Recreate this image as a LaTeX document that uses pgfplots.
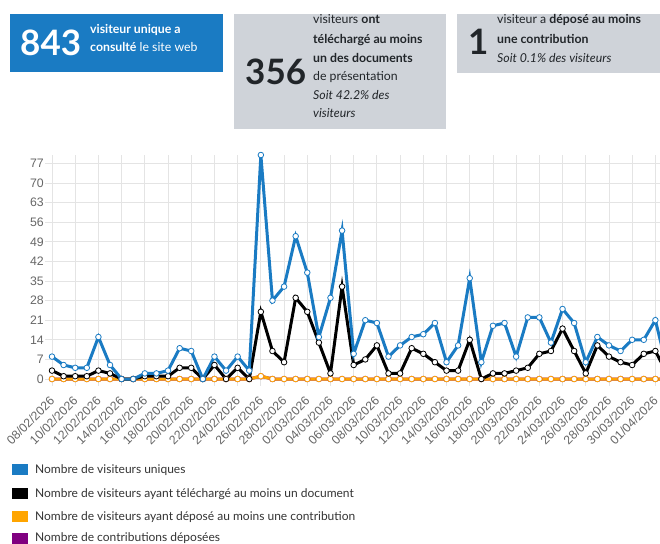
\documentclass[border=0pt]{standalone}
\usepackage{pgfplots}
\usepackage{pgfplotstable}
\pgfplotsset{compat=1.18}
\usepackage{fontspec}
\setmainfont{Lato}
\newfontfamily\tickfont{Liberation Sans}
\definecolor{cblue}{HTML}{1A7BC3}
\definecolor{kgray}{HTML}{CFD3D9}
\definecolor{ktext}{HTML}{212529}
\definecolor{corange}{HTML}{FFA500}
\definecolor{cpurple}{HTML}{800080}
\definecolor{gridc}{HTML}{E4E4E4}
\definecolor{tickc}{HTML}{666666}
\definecolor{legc}{HTML}{333333}

\pgfplotstableread{
i blue black orange purple
0 8 3 0 0
1 5 1 0 0
2 4 1 0 0
3 4 1 0 0
4 15 3 0 0
5 5 2 0 0
6 0 0 0 0
7 0 0 0 0
8 2 1 0 0
9 2 1 0 0
10 3 1 0 0
11 11 4 0 0
12 10 4 0 0
13 0 0 0 0
14 8 5 0 0
15 3 0 0 0
16 8 4 0 0
17 3 0 0 0
18 80 24 1 1
19 28 10 0 0
20 33 6 0 0
21 51 29 0 0
22 38 24 0 0
23 15 13 0 0
24 29 2 0 0
25 53 33 0 0
26 9 5 0 0
27 21 7 0 0
28 20 12 0 0
29 8 2 0 0
30 12 2 0 0
31 15 11 0 0
32 16 9 0 0
33 20 6 0 0
34 6 3 0 0
35 12 3 0 0
36 36 14 0 0
37 6 0 0 0
38 19 2 0 0
39 20 2 0 0
40 8 3 0 0
41 22 4 0 0
42 22 9 0 0
43 13 10 0 0
44 25 18 0 0
45 20 10 0 0
46 6 2 0 0
47 15 12 0 0
48 12 8 0 0
49 10 6 0 0
50 14 5 0 0
51 14 9 0 0
52 21 10 0 0
53 4 2 0 0
}\datatable

\newcommand{\kl}[3]{\node[anchor=base west, inner sep=0pt, text=ktext, font=\fontsize{12.3}{12.3}\selectfont] at (#1,#2) {#3};}

\begin{document}
\begin{tikzpicture}[x=1pt,y=1pt]
\useasboundingbox (0,0) rectangle (660,-543);
% KPI box 1
\fill[cblue] (10,-14) rectangle (223,-72);
\node[anchor=base west, inner sep=0pt, text=white, font=\fontsize{35}{35}\selectfont\bfseries] at (20,-56) {843};
\node[anchor=base west, inner sep=0pt, text=white, font=\fontsize{12.3}{12.3}\selectfont] at (90,-34) {\textbf{visiteur unique a}};
\node[anchor=base west, inner sep=0pt, text=white, font=\fontsize{12.3}{12.3}\selectfont] at (90,-52) {\textbf{consulté} le site web};
% KPI box 2
\fill[kgray] (234,-14) rectangle (446,-129);
\node[anchor=base west, inner sep=0pt, text=ktext, font=\fontsize{35}{35}\selectfont\bfseries] at (245,-84) {356};
\kl{313}{-24}{visiteurs \textbf{ont}}
\kl{313}{-44}{\textbf{téléchargé au moins}}
\kl{313}{-62}{\textbf{un des documents}}
\kl{313}{-80}{de présentation}
\kl{313}{-99}{\textit{Soit 42.2\% des}}
\kl{313}{-117}{\textit{visiteurs}}
% KPI box 3
\fill[kgray] (457,-14) rectangle (665,-73);
\node[anchor=base west, inner sep=0pt, text=ktext, font=\fontsize{35}{35}\selectfont\bfseries] at (468,-55) {1};
\kl{497}{-24}{visiteur a \textbf{déposé au moins}}
\kl{497}{-44}{\textbf{une contribution}}
\kl{497}{-62}{\textit{Soit 0.1\% des visiteurs}}

\begin{axis}[
  at={(52pt,-379pt)}, anchor=south west,
  scale only axis, width=608pt, height=224pt,
  xmin=0, xmax=52.4, ymin=0, ymax=80,
  clip=false,
  axis line style={draw=none},
  grid=major,
  major grid style={gridc, line width=0.8pt},
  xtick={0,2,...,52},
  xticklabels={08/02/2026,10/02/2026,12/02/2026,14/02/2026,16/02/2026,18/02/2026,20/02/2026,22/02/2026,24/02/2026,26/02/2026,28/02/2026,02/03/2026,04/03/2026,06/03/2026,08/03/2026,10/03/2026,12/03/2026,14/03/2026,16/03/2026,18/03/2026,20/03/2026,22/03/2026,24/03/2026,26/03/2026,28/03/2026,30/03/2026,01/04/2026},
  ytick={0,7,...,77},
  tick align=outside,
  major tick length=7pt,
  tick style={gridc, line width=0.8pt},
  xtick pos=left, ytick pos=left,
  tick label style={font=\tickfont\fontsize{12.3}{12.3}\selectfont, text=tickc},
  x tick label style={yshift=-8pt, xshift=-3pt, rotate=45, anchor=north east, inner sep=1pt},
  y tick label style={inner sep=1pt},
  /pgf/number format/assume math mode=true,
]
\addplot[cpurple, line width=3pt, mark=*, mark size=2.8pt, mark options={fill=white, draw=cpurple, line width=0.8pt}] table[x=i,y=purple] {\datatable};
\addplot[corange, line width=3pt, mark=*, mark size=2.8pt, mark options={fill=white, draw=corange, line width=0.8pt}] table[x=i,y=orange] {\datatable};
\addplot[black, line width=3pt, mark=*, mark size=2.8pt, mark options={fill=white, draw=black, line width=0.8pt}] table[x=i,y=black] {\datatable};
\addplot[cblue, line width=3pt, mark=*, mark size=2.8pt, mark options={fill=white, draw=cblue, line width=0.8pt}] table[x=i,y=blue] {\datatable};
\end{axis}

% legend
\fill[cblue] (12,-463.5) rectangle (28,-474.5);
\node[anchor=base west, inner sep=0pt, text=legc, font=\fontsize{12}{12}\selectfont] at (35,-473) {Nombre de visiteurs uniques};
\fill[black] (12,-487.5) rectangle (28,-498.5);
\node[anchor=base west, inner sep=0pt, text=legc, font=\fontsize{12}{12}\selectfont] at (35,-497) {Nombre de visiteurs ayant téléchargé au moins un document};
\fill[corange] (12,-510.5) rectangle (28,-521.5);
\node[anchor=base west, inner sep=0pt, text=legc, font=\fontsize{12}{12}\selectfont] at (35,-520) {Nombre de visiteurs ayant déposé au moins une contribution};
\fill[cpurple] (12,-532.5) rectangle (28,-543.5);
\node[anchor=base west, inner sep=0pt, text=legc, font=\fontsize{12}{12}\selectfont] at (35,-541.5) {Nombre de contributions déposées};
\end{tikzpicture}
\end{document}
